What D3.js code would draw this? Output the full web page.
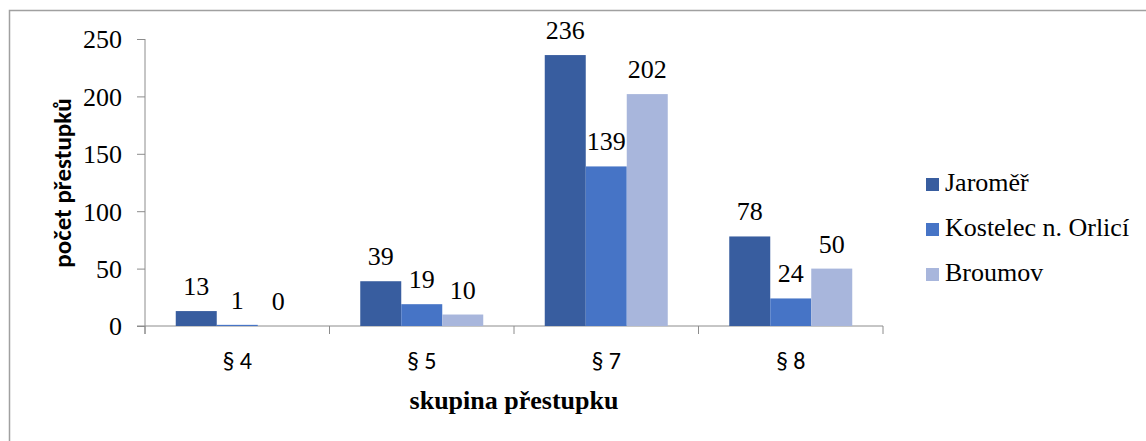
<!DOCTYPE html>
<html><head><meta charset="utf-8">
<script src="https://cdn.jsdelivr.net/npm/d3@7"></script>
<style>body{margin:0;background:#fff}svg{display:block}</style>
</head><body>
<svg id="c" width="1146" height="441"></svg>
<script>
const categories = ["§ 4", "§ 5", "§ 7", "§ 8"];
const seriesNames = ["Jaroměř", "Kostelec n. Orlicí", "Broumov"];
const jaromer = [13, 39, 236, 78];
const kostelec = [1, 19, 139, 24];
const broumov = [0, 10, 202, 50];
const yTicks = [0, 50, 100, 150, 200, 250];
const colors = ["#385D9F", "#4674C6", "#A8B6DC"];

(function () {
const seriesValues = [jaromer, kostelec, broumov];
const svg = d3.select("#c");
const serif = '"Liberation Serif", "Times New Roman", serif';
const sans = 'Carlito, "Open Sans", sans-serif';

// frame
svg.append("path").attr("d", "M9.5,441 V10.5 H1146").attr("fill", "none").attr("stroke", "#a0a0a0").attr("stroke-width", 1.5);

const pLeft = 145, pRight = 883, pTop = 39, pBottom = 326;
const x = d3.scaleBand().domain(categories).range([pLeft, pRight]).paddingInner(0).paddingOuter(0);
const x1 = d3.scaleBand().domain(d3.range(3)).range([0, x.bandwidth()]).paddingInner(0).paddingOuter(0.75);
const y = d3.scaleLinear().domain([0, 250]).range([pBottom, pTop]);

// y axis
const yAxis = svg.append("g").attr("transform", `translate(${pLeft},0)`)
  .call(d3.axisLeft(y).tickValues(yTicks).tickSize(8).tickPadding(15).tickFormat(d3.format("d")));
yAxis.attr("font-family", null).attr("font-size", null);
yAxis.select(".domain").attr("d", `M0,${pTop}V${pBottom + 8}`).attr("stroke", "#8c8c8c");
yAxis.selectAll(".tick line").attr("stroke", "#8c8c8c");
yAxis.selectAll("text").style("font-family", serif).style("font-size", "26px").attr("fill", "#000").attr("dy", "0.34em");

// x axis
const xAxisG = svg.append("g").attr("transform", `translate(0,${pBottom})`);
xAxisG.append("line").attr("x1", pLeft - 8).attr("x2", pRight).attr("y1", 0).attr("y2", 0).attr("stroke", "#8c8c8c");
const bounds = categories.map(c => x(c)).concat([pRight]);
xAxisG.selectAll("line.tk").data(bounds).join("line").attr("class", "tk")
  .attr("x1", d => d).attr("x2", d => d).attr("y1", 0).attr("y2", 8).attr("stroke", "#8c8c8c");
xAxisG.selectAll("text").data(categories).join("text")
  .attr("x", d => x(d) + x.bandwidth() / 2).attr("y", 43)
  .attr("text-anchor", "middle").style("font-family", sans).style("font-size", "24px").attr("fill", "#000")
  .text(d => d);

// bars
const groups = svg.append("g").selectAll("g").data(categories).join("g")
  .attr("transform", d => `translate(${x(d)},0)`);
groups.each(function(cat, ci) {
  const g = d3.select(this);
  seriesValues.forEach((vals, si) => {
    const v = vals[ci];
    g.append("rect").attr("x", x1(si)).attr("width", x1.bandwidth())
      .attr("y", y(v)).attr("height", pBottom - y(v)).attr("fill", colors[si]);
    g.append("text").attr("x", x1(si) + x1.bandwidth() / 2).attr("y", y(v) - 16)
      .attr("text-anchor", "middle").style("font-family", serif).style("font-size", "26px").attr("fill", "#000")
      .text(v);
  });
});

// axis titles
svg.append("text").attr("x", 514).attr("y", 409).attr("text-anchor", "middle")
  .style("font-family", serif).style("font-weight", "bold").style("font-size", "26px").text("skupina přestupku");
svg.append("text").attr("transform", "translate(71,183) rotate(-90)").attr("text-anchor", "middle")
  .style("font-family", sans).style("font-weight", "bold").style("font-size", "25px").text("počet přestupků");

// legend
const leg = svg.append("g").selectAll("g").data(seriesNames).join("g")
  .attr("transform", (d, i) => `translate(926,${178 + i * 45})`);
leg.append("rect").attr("width", 13).attr("height", 13).attr("fill", (d, i) => colors[i]);
leg.append("text").attr("x", 19).attr("y", 13).style("font-family", serif).style("font-size", "26px").attr("fill", "#000").text(d => d);
})();
</script>
</body></html>
